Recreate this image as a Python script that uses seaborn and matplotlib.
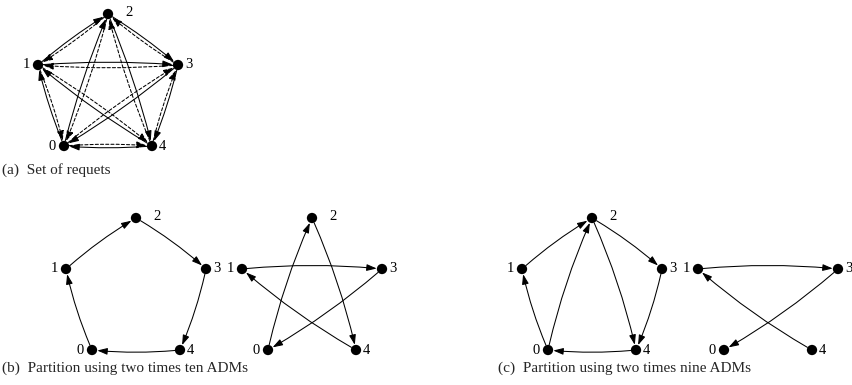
import matplotlib
matplotlib.use("Agg")
import matplotlib.pyplot as plt
import seaborn as sns
import pandas as pd

# ---- graph data -------------------------------------------------------
node_ids = [0, 1, 2, 3, 4]

# requests drawn solid in (a); their reverses are drawn dashed
requests_solid = [(0, 1), (1, 2), (2, 3), (3, 4), (4, 0),
                  (0, 2), (2, 4), (4, 1), (1, 3), (3, 0)]

# partition (b): outer cycle and inner star
part_b_ring = [(0, 1), (1, 2), (2, 3), (3, 4), (4, 0)]
part_b_star = [(0, 2), (2, 4), (4, 1), (1, 3), (3, 0)]

# partition (c)
part_c_left = [(0, 1), (1, 2), (0, 2), (2, 3), (2, 4), (3, 4), (4, 0)]
part_c_right = [(1, 3), (3, 0), (4, 1)]
part_c_right_nodes = [0, 1, 3, 4]

captions = ["(a)  Set of requets",
            "(b)  Partition using two times ten ADMs",
            "(c)  Partition using two times nine ADMs"]

# ---- layout (pixel space) --------------------------------------------
shape = {2: (0, 0), 1: (-70, 51), 3: (70, 51), 0: (-44, 132), 4: (44, 132)}
label_off = {2: (21, -2), 1: (-12, 0), 3: (11, 0), 0: (-12, 0), 4: (10, 0)}


def place(cx, cy, ids):
    return {n: (cx + shape[n][0], cy + shape[n][1]) for n in ids}


panels = [
    dict(pos=place(108, 14, node_ids), solid=requests_solid, dashed=True, rad=-0.04),
    dict(pos=place(136, 218, node_ids), solid=part_b_ring, dashed=False, rad=-0.05),
    dict(pos=place(312, 218, node_ids), solid=part_b_star, dashed=False, rad=-0.05),
    dict(pos=place(592, 218, node_ids), solid=part_c_left, dashed=False, rad=-0.05),
    dict(pos=place(768, 218, part_c_right_nodes), solid=part_c_right, dashed=False, rad=-0.05),
]

sns.set_theme(style="white")
plt.rcParams["font.family"] = ["Liberation Serif", "DejaVu Serif"]

fig = plt.figure(figsize=(8.52, 3.85), dpi=100)
ax = fig.add_axes([0, 0, 1, 1])


def arrow(p, q, rad, ls="-"):
    ax.annotate("", xy=q, xytext=p,
                arrowprops=dict(arrowstyle="-|>,head_length=0.6,head_width=0.2",
                                mutation_scale=10, shrinkA=3.8, shrinkB=3.8,
                                connectionstyle=f"arc3,rad={rad}",
                                lw=0.75, color="black", linestyle=ls))


rows = []
for pnl in panels:
    pos = pnl["pos"]
    for u, v in pnl["solid"]:
        arrow(pos[u], pos[v], pnl["rad"], "-")
        if pnl["dashed"]:
            arrow(pos[v], pos[u], pnl["rad"], (0, (3, 2)))
    for n, (x, y) in pos.items():
        rows.append(dict(x=x, y=y, node=n))
        dx, dy = label_off[n]
        ax.text(x + dx, y + dy, str(n), fontsize=10.5, ha="center", va="center",
                color="black")

nodes_df = pd.DataFrame(rows)
sns.scatterplot(data=nodes_df, x="x", y="y", ax=ax, color="black", s=55,
                edgecolor="none", zorder=5, legend=False)
ax.set_xlim(0, 852)
ax.set_ylim(385, 0)
ax.axis("off")

ax.text(2, 170, captions[0], fontsize=11, ha="left", va="center")
ax.text(2, 368, captions[1], fontsize=11, ha="left", va="center")
ax.text(498, 368, captions[2], fontsize=11, ha="left", va="center")

fig.savefig("out.png", dpi=100)
